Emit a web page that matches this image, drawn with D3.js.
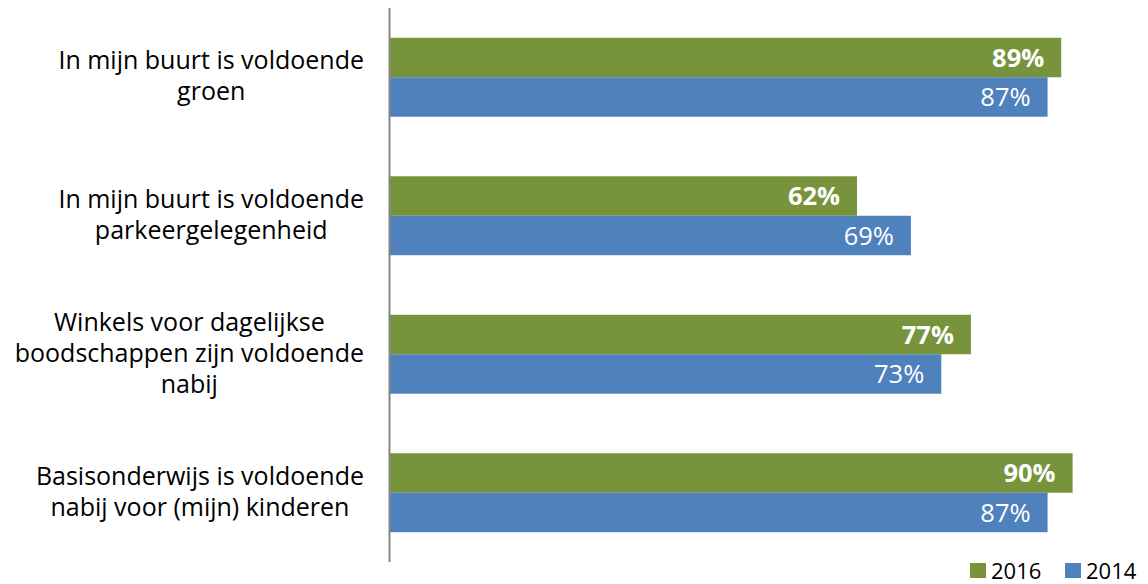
<!DOCTYPE html>
<html>
<head>
<meta charset="utf-8">
<script src="https://cdn.jsdelivr.net/npm/d3@7"></script>
<style>
  body { margin: 0; background: #fff; }
  text { font-family: "Open Sans", "Noto Sans", sans-serif; }
</style>
</head>
<body>
<svg id="chart" width="1148" height="584"></svg>
<script>
// categories, one array of lines per label
const categories = [
    ["In mijn buurt is voldoende", "groen"],
    ["In mijn buurt is voldoende", "parkeergelegenheid"],
    ["Winkels voor dagelijkse", "boodschappen zijn voldoende", "nabij"],
    ["Basisonderwijs is voldoende", "nabij voor (mijn) kinderen"]
]
const series = ["2016", "2014"]
const values2016 = [88.5, 61.6, 76.6, 90.0]
const values2014 = [86.7, 68.7, 72.7, 86.7]

const colors = { "2016": "#77933C", "2014": "#4F81BD" }

const svg = d3.select("#chart")
const axisX = 389.5

const x = d3.scaleLinear().domain([0, 100]).range([axisX, axisX + 759])
const y = d3.scaleBand().domain(d3.range(categories.length)).range([8, 562])
    .paddingInner(0.43).paddingOuter(0.215)
const ySub = d3.scaleBand().domain(series).range([0, y.bandwidth()])

const rows = categories.map((c, i) => ({
    index: i,
    lines: c,
    vals: [
        { key: "2016", value: values2016[i] },
        { key: "2014", value: values2014[i] }
    ]
}))

// bars
const group = svg.append("g")
    .selectAll("g")
    .data(rows)
    .join("g")
    .attr("transform", d => `translate(0,${y(d.index)})`)

group.selectAll("rect")
    .data(d => d.vals)
    .join("rect")
    .attr("x", x(0))
    .attr("y", d => ySub(d.key))
    .attr("width", d => x(d.value) - x(0))
    .attr("height", ySub.bandwidth())
    .attr("fill", d => colors[d.key])

group.selectAll("text.value")
    .data(d => d.vals)
    .join("text")
    .attr("class", "value")
    .attr("x", d => x(d.value) - 17)
    .attr("y", d => ySub(d.key) + ySub.bandwidth() / 2)
    .attr("dy", "0.36em")
    .attr("text-anchor", "end")
    .attr("fill", "#fff")
    .attr("font-size", 25.5)
    .attr("font-weight", d => d.key === "2016" ? "bold" : "normal")
    .text(d => Math.round(d.value) + "%")

// category labels: lines centred inside a right aligned block
const lineH = 31
const labels = svg.append("g")
    .selectAll("text")
    .data(rows)
    .join("text")
    .attr("font-size", 25)
    .attr("fill", "#000")
    .attr("text-anchor", "middle")

labels.each(function (d) {
    const t = d3.select(this)
    const cy = y(d.index) + y.bandwidth() / 2
    const n = d.lines.length
    d.lines.forEach((line, k) => {
        t.append("tspan")
            .attr("x", 0)
            .attr("y", cy + (k - (n - 1) / 2) * lineH)
            .attr("dy", "0.3em")
            .text(line)
    })
    let w = 0
    t.selectAll("tspan").each(function () { w = Math.max(w, this.getComputedTextLength()) })
    t.selectAll("tspan").attr("x", 364 - w / 2)
})

// axis line
svg.append("line")
    .attr("x1", axisX).attr("x2", axisX)
    .attr("y1", 8).attr("y2", 562)
    .attr("stroke", "#868686")
    .attr("stroke-width", 2)

// legend
const legend = svg.append("g")
    .selectAll("g")
    .data(series)
    .join("g")
    .attr("transform", (d, i) => `translate(${970 + i * 95},563)`)

legend.append("rect")
    .attr("width", 16).attr("height", 15)
    .attr("fill", d => colors[d])

legend.append("text")
    .attr("x", 21)
    .attr("y", 15.5)
    .attr("font-size", 22)
    .attr("fill", "#000")
    .text(d => d)
</script>
</body>
</html>
